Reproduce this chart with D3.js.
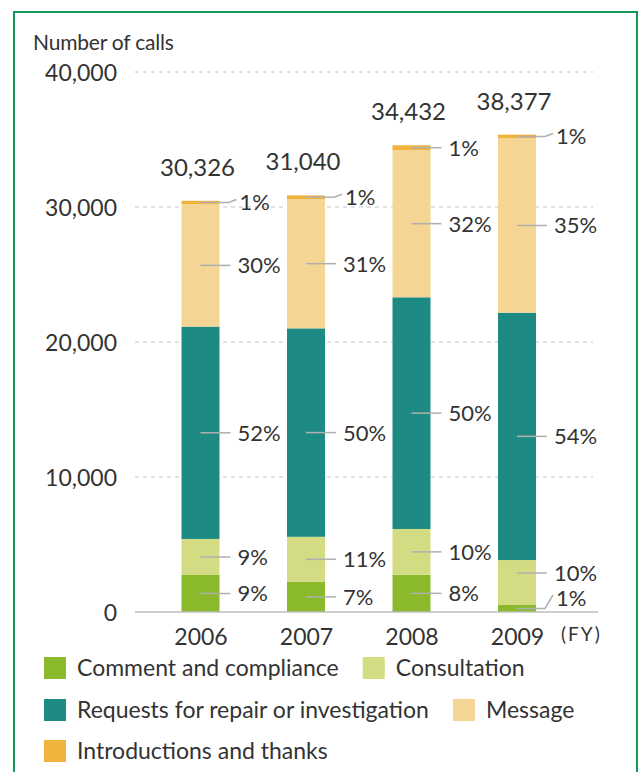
<!DOCTYPE html>
<html>
<head>
<meta charset="utf-8">
<script src="https://cdn.jsdelivr.net/npm/d3@7"></script>
<style>
  html, body { margin: 0; padding: 0; background: #fff; }
  svg text { font-family: Lato, "Open Sans", sans-serif; fill: #333; }
</style>
</head>
<body>
<svg id="chart" width="639" height="772"></svg>
<script>
// ---- data ----
const years = ["2006", "2007", "2008", "2009"];
const totalLabels = ["30,326", "31,040", "34,432", "38,377"];
const seriesNames = ["Comment and compliance", "Consultation", "Requests for repair or investigation", "Message", "Introductions and thanks"];
const comment      = [2740, 2240, 2760, 520];
const consultation = [2670, 3330, 3390, 3330];
const repair       = [15730, 15440, 17160, 18320];
const message      = [9070, 9580, 10910, 12920];
const intro        = [250, 270, 350, 270];
const pctComment      = ["9%", "7%", "8%", "1%"];
const pctConsultation = ["9%", "11%", "10%", "10%"];
const pctRepair       = ["52%", "50%", "50%", "54%"];
const pctMessage      = ["30%", "31%", "32%", "35%"];
const pctIntro        = ["1%", "1%", "1%", "1%"];
const yTicks = [0, 10000, 20000, 30000, 40000];
const colors = ["#8aba2b", "#d3dc82", "#1e8a84", "#f5d594", "#f0b33c"];

const seriesValues = [comment, consultation, repair, message, intro];
const seriesPct = [pctComment, pctConsultation, pctRepair, pctMessage, pctIntro];

const svg = d3.select("#chart");

// frame
svg.append("rect")
  .attr("x", 14).attr("y", 12).attr("width", 623).attr("height", 800)
  .attr("fill", "none").attr("stroke", "#16975a").attr("stroke-width", 2);

const y = d3.scaleLinear().domain([0, 40000]).range([612, 72]);
const x = d3.scalePoint().domain(years).range([200.5, 517]);
const barW = 38;

// title
svg.append("text").attr("x", 33).attr("y", 50)
  .attr("font-size", 21).attr("letter-spacing", -0.2).text("Number of calls");

// grid
svg.append("g").selectAll("line")
  .data(yTicks.filter(d => d > 0)).join("line")
  .attr("x1", 135).attr("x2", 593)
  .attr("y1", d => y(d)).attr("y2", d => y(d))
  .attr("stroke", "#c4c4c4").attr("stroke-width", 1).attr("stroke-dasharray", "4,4");

// y axis labels
const yAxis = d3.axisLeft(y).tickValues(yTicks).tickFormat(d3.format(",")).tickSize(0).tickPadding(0);
const gy = svg.append("g").attr("transform", "translate(117,0)").call(yAxis);
gy.select(".domain").remove();
gy.selectAll("text").attr("font-size", 23).attr("fill", "#333")
  .attr("font-family", "Lato, sans-serif").attr("dy", "0.36em");

// stacked data
const rows = years.map((yr, i) => {
  const r = { year: yr };
  seriesNames.forEach((s, k) => r[s] = seriesValues[k][i]);
  return r;
});
const stack = d3.stack().keys(seriesNames)(rows);

const gBars = svg.append("g");
stack.forEach((layer, k) => {
  gBars.append("g").attr("fill", colors[k]).selectAll("rect")
    .data(layer).join("rect")
    .attr("x", d => x(d.data.year) - barW / 2)
    .attr("width", barW)
    .attr("y", d => y(d[1]))
    .attr("height", d => y(d[0]) - y(d[1]));
});

// baseline
svg.append("line").attr("x1", 135).attr("x2", 598).attr("y1", y(0)).attr("y2", y(0))
  .attr("stroke", "#bdbdbd").attr("stroke-width", 1.5);

// percentage labels with leader lines (bottom-up, avoiding overlaps)
const gap = 25;
const gLab = svg.append("g");
years.forEach((yr, i) => {
  let prev = y(0) - 14 + gap; // first label may sit down to baseline-14
  stack.forEach((layer, k) => {
    const d = layer[i];
    const cx = x(yr);
    const top = y(d[1]), bot = y(d[0]);
    const mid = (top + bot) / 2;
    const ly = Math.min(mid, prev - gap);
    prev = ly;
    if (ly >= top + 2 && ly <= bot - 2) {
      gLab.append("line")
        .attr("x1", cx).attr("x2", cx + 30).attr("y1", ly).attr("y2", ly)
        .attr("stroke", "#b0b0b0").attr("stroke-width", 1.5);
      gLab.append("text").attr("x", cx + 37).attr("y", ly).attr("dy", "0.36em")
        .attr("font-size", 22).text(seriesPct[k][i]);
    } else {
      gLab.append("polyline")
        .attr("points", `${cx},${mid} ${cx + 28},${mid} ${cx + 36},${ly - 3}`)
        .attr("fill", "none").attr("stroke", "#b0b0b0").attr("stroke-width", 1.5);
      gLab.append("text").attr("x", cx + 39).attr("y", ly).attr("dy", "0.36em")
        .attr("font-size", 22).text(seriesPct[k][i]);
    }
  });
});

// totals
const tops = stack[stack.length - 1];
svg.append("g").selectAll("text").data(tops).join("text")
  .attr("x", (d, i) => x(d.data.year) - 3)
  .attr("y", d => y(d[1]) - 25)
  .attr("text-anchor", "middle").attr("font-size", 24)
  .text((d, i) => totalLabels[i]);

// x axis labels
const xAxis = d3.axisBottom(x).tickSize(0).tickPadding(0);
const gx = svg.append("g").attr("transform", `translate(0,${y(0)})`).call(xAxis);
gx.select(".domain").remove();
gx.selectAll("text").attr("font-size", 23).attr("fill", "#333")
  .attr("font-family", "Lato, sans-serif").attr("dy", "1.45em");
svg.append("text").attr("x", 561).attr("y", 641).attr("font-size", 19)
  .attr("letter-spacing", 2).text("(FY)");

// legend (flow layout)
const legendRows = [[0, 1], [2, 3], [4]];
const rowTops = [657, 699, 740];
const gLeg = svg.append("g");
legendRows.forEach((row, r) => {
  let cx = 44;
  row.forEach(k => {
    gLeg.append("rect").attr("x", cx).attr("y", rowTops[r])
      .attr("width", 22).attr("height", 22).attr("fill", colors[k]);
    const t = gLeg.append("text").attr("x", cx + 33).attr("y", rowTops[r] + 19)
      .attr("font-size", 23).attr("letter-spacing", 0).text(seriesNames[k]);
    cx = cx + 33 + t.node().getComputedTextLength() + 24;
  });
});
</script>
</body>
</html>
